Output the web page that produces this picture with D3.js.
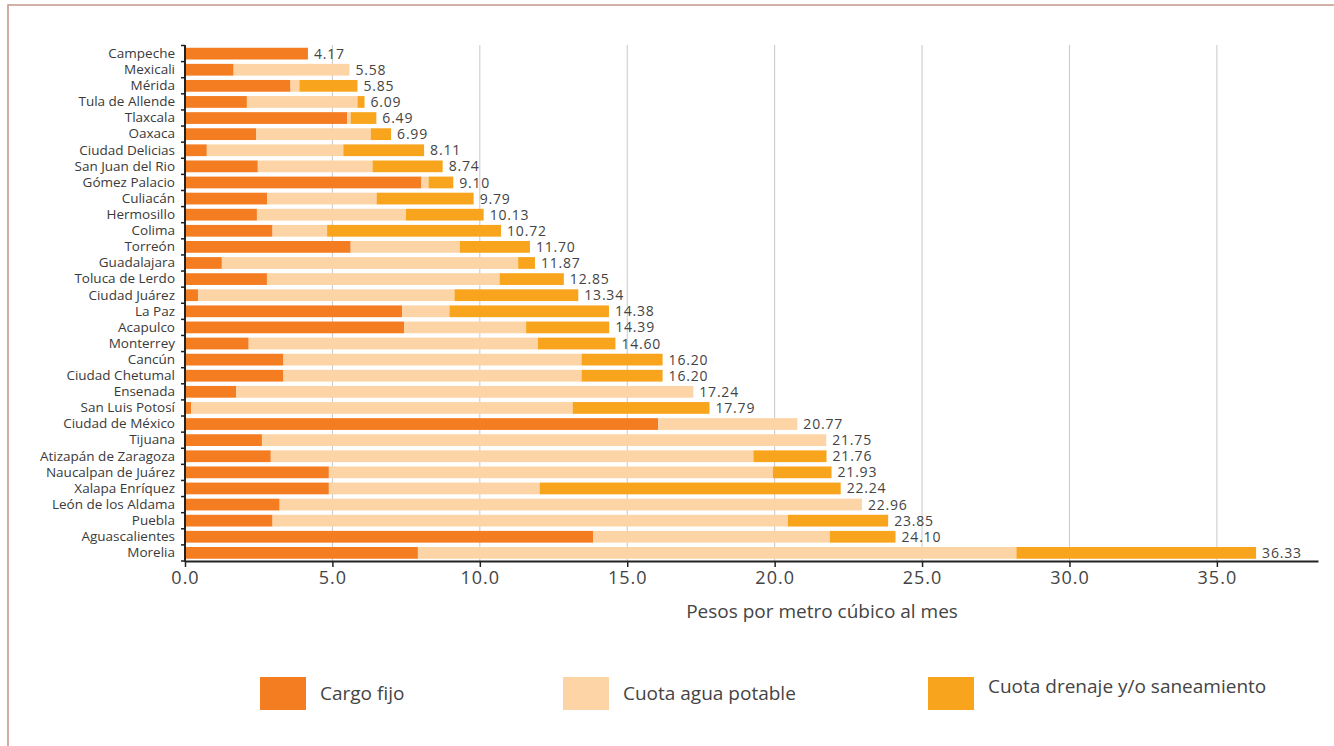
<!DOCTYPE html>
<html><head><meta charset="utf-8">
<script src="https://cdn.jsdelivr.net/npm/d3@7"></script>
<style>
html,body{margin:0;padding:0;background:#fff;}
svg{display:block;font-family:"Open Sans",sans-serif;}
</style></head>
<body><svg id="chart" width="1334" height="746"></svg>
<script>
const cities = ["Campeche","Mexicali","Mérida","Tula de Allende","Tlaxcala","Oaxaca","Ciudad Delicias","San Juan del Rio","Gómez Palacio","Culiacán","Hermosillo","Colima","Torreón","Guadalajara","Toluca de Lerdo","Ciudad Juárez","La Paz","Acapulco","Monterrey","Cancún","Ciudad Chetumal","Ensenada","San Luis Potosí","Ciudad de México","Tijuana","Atizapán de Zaragoza","Naucalpan de Juárez","Xalapa Enríquez","León de los Aldama","Puebla","Aguascalientes","Morelia"];
const cargoFijo   = [4.17,1.65,3.58,2.10,5.50,2.42,0.74,2.47,8.02,2.79,2.44,2.97,5.62,1.25,2.78,0.44,7.37,7.43,2.16,3.34,3.34,1.74,0.21,16.05,2.61,2.91,4.88,4.88,3.21,2.97,13.85,7.90];
const aguaPotable = [0,3.93,0.30,3.75,0.12,3.88,4.63,3.89,0.24,3.71,5.05,1.85,3.70,10.05,7.89,8.70,1.60,4.14,9.81,10.11,10.11,15.50,12.94,4.72,19.14,16.37,15.06,7.15,19.75,17.48,8.02,20.30];
const drenaje     = [0,0,1.97,0.24,0.87,0.69,2.74,2.38,0.84,3.29,2.64,5.90,2.38,0.57,2.18,4.20,5.41,2.82,2.63,2.75,2.75,0,4.64,0,0,2.48,1.99,10.21,0,3.40,2.23,8.13];
const totals      = [4.17,5.58,5.85,6.09,6.49,6.99,8.11,8.74,9.10,9.79,10.13,10.72,11.70,11.87,12.85,13.34,14.38,14.39,14.60,16.20,16.20,17.24,17.79,20.77,21.75,21.76,21.93,22.24,22.96,23.85,24.10,36.33];
const seriesNames = ["Cargo fijo","Cuota agua potable","Cuota drenaje y/o saneamiento"];
const seriesColors = ["#F47D22","#FDD4A6","#F8A51D"];
const xTicks = [0,5,10,15,20,25,30,35];

const svg = d3.select("#chart");

// frame
svg.append("path").attr("d","M8,760 L8,5 L1340,5")
  .attr("fill","none").attr("stroke","#C4998A").attr("stroke-width",1.6);

const x = d3.scaleLinear().domain([0,38.43]).range([185,1318]);
const y = d3.scaleBand().domain(cities).range([45.5,561]).paddingInner(0.27).paddingOuter(0.14);

// gridlines
svg.append("g").selectAll("line").data(xTicks.filter(d=>d>0)).join("line")
  .attr("x1",d=>x(d)).attr("x2",d=>x(d)).attr("y1",45).attr("y2",561)
  .attr("stroke","#c8c8c8").attr("stroke-width",1);

// stacked bars
const rows = cities.map((c,i)=>({city:c, v:[cargoFijo[i],aguaPotable[i],drenaje[i]], total:totals[i]}));
const segs = [];
rows.forEach(r=>{ let acc=0; r.v.forEach((v,k)=>{ if(v>0){segs.push({city:r.city,k,x0:acc,x1:acc+v});} acc+=v; }); });
svg.append("g").selectAll("rect").data(segs).join("rect")
  .attr("x",d=>x(d.x0)).attr("width",d=>x(d.x1)-x(d.x0))
  .attr("y",d=>y(d.city)).attr("height",y.bandwidth())
  .attr("fill",d=>seriesColors[d.k]);

// value labels
svg.append("g").selectAll("text").data(rows).join("text")
  .attr("x",d=>x(d.v[0]+d.v[1]+d.v[2])+6)
  .attr("y",d=>y(d.city)+y.bandwidth()/2)
  .attr("dy","0.36em")
  .attr("font-size",14).attr("fill","#444").attr("letter-spacing","0.8px")
  .text(d=>d.total.toFixed(2));

// x axis
const xAxis = svg.append("g").attr("transform","translate(0,561)")
  .call(d3.axisBottom(x).tickValues(xTicks).tickFormat(d3.format(".1f")).tickSize(6).tickPadding(4).tickSizeOuter(0));
xAxis.select(".domain").attr("stroke","#222").attr("stroke-width",2);
xAxis.selectAll(".tick line").attr("stroke","#222").attr("stroke-width",1.5);
xAxis.selectAll(".tick text").attr("font-size",18).attr("fill","#444")
  .attr("font-family","'Open Sans',sans-serif").attr("letter-spacing","1px");

// y axis
const yAxis = svg.append("g").attr("transform","translate(185,0)")
  .call(d3.axisLeft(y).tickSize(0).tickPadding(10));
yAxis.select(".domain").remove();
yAxis.selectAll(".tick text").attr("font-size",13.5).attr("fill","#3a3a3a")
  .attr("font-family","'Open Sans',sans-serif");
svg.append("line").attr("x1",185).attr("x2",185).attr("y1",45).attr("y2",562)
  .attr("stroke","#222").attr("stroke-width",2);
const step = y.step();
const bounds = d3.range(cities.length+1).map(i=>45.5+i*(515.5/cities.length));
svg.append("g").selectAll("line").data(bounds).join("line")
  .attr("x1",181).attr("x2",185).attr("y1",d=>d).attr("y2",d=>d)
  .attr("stroke","#222").attr("stroke-width",1.5);

// axis title
svg.append("text").attr("x",822).attr("y",618).attr("text-anchor","middle")
  .attr("font-size",19).attr("fill","#444").text("Pesos por metro cúbico al mes");

// legend
const legX = [260,563,928];
const legTextY = [700,700,693];
const leg = svg.append("g").selectAll("g").data(seriesNames).join("g");
leg.append("rect").attr("x",(d,i)=>legX[i]).attr("y",677).attr("width",46).attr("height",33)
  .attr("fill",(d,i)=>seriesColors[i]);
leg.append("text").attr("x",(d,i)=>legX[i]+60).attr("y",(d,i)=>legTextY[i])
  .attr("font-size",19).attr("fill","#444").text(d=>d);
</script></body></html>
